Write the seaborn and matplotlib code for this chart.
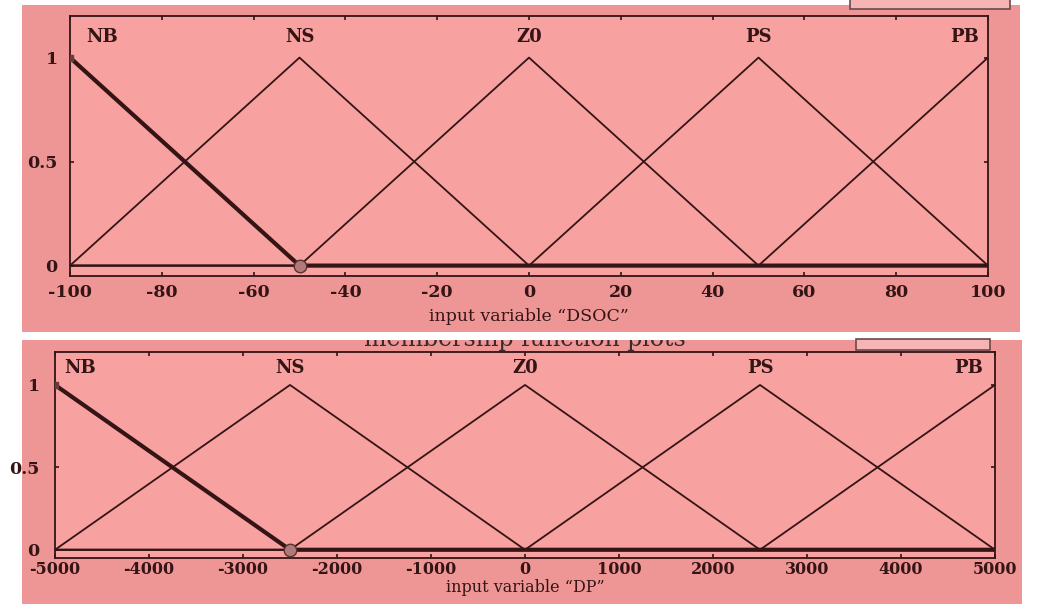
import numpy as np
import pandas as pd
import matplotlib
matplotlib.use("Agg")
import matplotlib.pyplot as plt
import seaborn as sns
from matplotlib.patches import Rectangle

# Data: vertices of the triangular membership functions
mf_names = ["NB", "NS", "Z0", "PS", "PB"]
dsoc_x = [-100, -50, 0, 50, 100]
dp_x = [-5000, -2500, 0, 2500, 5000]
mf_y = {
    "NB": [1, 0, 0, 0, 0],
    "NS": [0, 1, 0, 0, 0],
    "Z0": [0, 0, 1, 0, 0],
    "PS": [0, 0, 0, 1, 0],
    "PB": [0, 0, 0, 0, 1],
}
dsoc_label_x = [-93, -50, 0, 50, 95]
dp_label_x = [-4730, -2500, 0, 2500, 4720]
dsoc_ticks = [-100, -80, -60, -40, -20, 0, 20, 40, 60, 80, 100]
dp_ticks = [-5000, -4000, -3000, -2000, -1000, 0, 1000, 2000, 3000, 4000, 5000]
y_ticks = [0, 0.5, 1]
y_ticklabels = ["0", "0.5", "1"]

sns.set_theme(style="ticks")
plt.rcParams["font.family"] = ["DejaVu Serif"]
plt.rcParams["font.weight"] = "bold"

W, H = 1038, 604
panel_col = "#EE9696"
axes_col = "#F8A1A1"
ink = "#341414"

fig = plt.figure(figsize=(W / 100, H / 100), dpi=100)
fig.patch.set_facecolor("white")


def frect(x0, y0, x1, y1, **kw):
    # rectangle in pixel coords (y from top)
    r = Rectangle((x0 / W, 1 - y1 / H), (x1 - x0) / W, (y1 - y0) / H,
                  transform=fig.transFigure, **kw)
    fig.patches.append(r)
    return r


# background panels (screenshot look)
frect(22, 339, 1022, 606, facecolor=panel_col, edgecolor="none", zorder=1)
fig.text(525 / W, 1 - 346 / H, "membership function plots", ha="center", va="baseline",
         fontsize=17, color="#3a2a2a", fontweight="normal", zorder=2)
frect(0, 332, W, 340, facecolor="white", edgecolor="none", zorder=3)
frect(22, 5, 1020, 332, facecolor=panel_col, edgecolor="none", zorder=3)
frect(850, -3, 1010, 9, facecolor="#F6B4B4", edgecolor="#6a4a4a", lw=1.2, zorder=4)
frect(856, 339, 990, 350, facecolor="#F6B4B4", edgecolor="#6a4a4a", lw=1.2, zorder=4)


def make_axes(box, xs, ticks, label_x, xlabel, ypad, xpad, lpad, fs):
    x0, y0, x1, y1 = box
    ax = fig.add_axes([x0 / W, 1 - y1 / H, (x1 - x0) / W, (y1 - y0) / H])
    ax.set_zorder(5)
    ax.set_facecolor(axes_col)
    for name in mf_names:
        df = pd.DataFrame({"x": xs, "y": mf_y[name]})
        sns.lineplot(data=df, x="x", y="y", ax=ax, color=ink, linewidth=1.3,
                     estimator=None, sort=False)
    # selected MF drawn thick
    df = pd.DataFrame({"x": xs, "y": mf_y["NB"]})
    sns.lineplot(data=df, x="x", y="y", ax=ax, color=ink, linewidth=3.0,
                 estimator=None, sort=False)
    ax.plot([xs[0]], [1], marker="s", ms=4, color="#6b3b3b", zorder=6)
    ax.plot([xs[1]], [0], marker="o", ms=9, mfc="#b07a7a", mec="#5a3030", zorder=6)
    for name, lx in zip(mf_names, label_x):
        ax.text(lx, 1.1, name, ha="center", va="center", fontsize=13,
                color=ink, fontweight="bold")
    ax.set_xlim(xs[0], xs[-1])
    ax.set_ylim(-0.05, 1.2)
    ax.set_xticks(ticks)
    ax.set_xticklabels([str(t) for t in ticks])
    ax.set_yticks(y_ticks)
    ax.set_yticklabels(y_ticklabels)
    ax.tick_params(axis="both", direction="in", length=3, width=1.2, color=ink,
                   labelsize=fs, labelcolor=ink, top=True, right=True)
    ax.tick_params(axis="x", pad=xpad)
    ax.tick_params(axis="y", pad=ypad, labelsize=12.5)
    for sp in ax.spines.values():
        sp.set_color(ink)
        sp.set_linewidth(1.3)
    ax.set_xlabel(xlabel, fontsize=fs, color=ink, labelpad=lpad)
    ax.set_ylabel("")
    return ax


make_axes((70, 16, 988, 276), dsoc_x, dsoc_ticks, dsoc_label_x,
          "input variable \u201cDSOC\u201d", ypad=9, xpad=6, lpad=5, fs=12.5)
make_axes((55, 352, 995, 558), dp_x, dp_ticks, dp_label_x,
          "input variable \u201cDP\u201d", ypad=11, xpad=2.5, lpad=0.5, fs=11.5)

fig.savefig("out.png", dpi=100)
